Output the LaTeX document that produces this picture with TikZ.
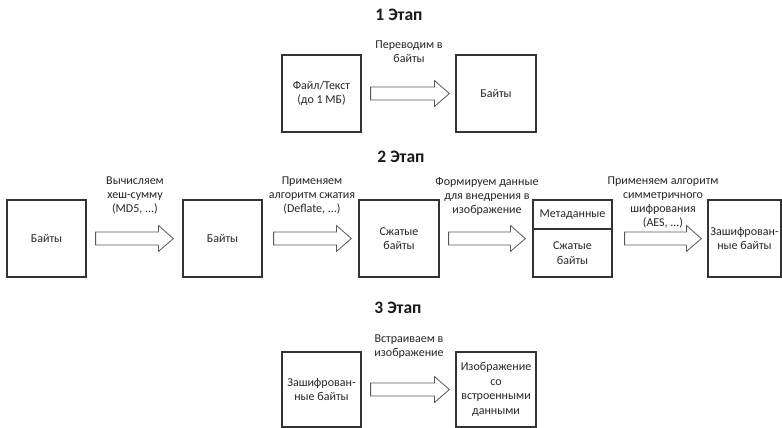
\documentclass[tikz,border=0pt]{standalone}
\usepackage{fontspec}
\setmainfont{Carlito}
\usetikzlibrary{calc}

\tikzset{
  stagebox/.style={draw=black!80, line width=1.2pt, fill=white, inner sep=2pt,
    align=center, font=\fontsize{12}{14.5}\selectfont, text=black!85},
  bare/.style={inner sep=0pt, align=center, font=\fontsize{12}{14.5}\selectfont, text=black!85},
  steplabel/.style={inner sep=0pt, align=center, anchor=north,
    font=\fontsize{12}{14}\selectfont, text=black!85},
  stagetitle/.style={inner sep=0pt, font=\fontsize{17.5}{20}\selectfont\bfseries, text=black!90},
  hollow/.style={draw=black!65, line width=0.8pt, fill=white, line join=miter},
}

% hollow block arrow from node #1 to node #2, with gaps #3 and #4 (pt),
% drawn at the height of the east anchor of #1
\newcommand\blockarrow[4]{%
  \draw[hollow] let \p1=(#1.east), \p2=(#2.west) in
    (\x1+#3pt,\y1+6.5pt) -- (\x2-#4pt-15pt,\y1+6.5pt) -- (\x2-#4pt-15pt,\y1+13pt)
    -- (\x2-#4pt,\y1) -- (\x2-#4pt-15pt,\y1-13pt) -- (\x2-#4pt-15pt,\y1-6.5pt)
    -- (\x1+#3pt,\y1-6.5pt) -- cycle;}

\begin{document}
\begin{tikzpicture}[x=1pt,y=-1pt]
\useasboundingbox[fill=white] (0,0) rectangle (782,428);

% ---- stage 1 ----
\node[stagetitle] (t1) at (399,15) {1 Этап};
\node[stagebox, minimum width=79pt, minimum height=77pt] (file) at (321.5,93.5) {Файл/Текст\\(до 1 МБ)};
\node[stagebox, minimum width=80pt, minimum height=77pt] (bytes1) at (496,93.5) {Байты};
\blockarrow{file}{bytes1}{9}{6}
\node[steplabel] (l1) at (409,41) {Переводим в\\байты};

% ---- stage 2 ----
\node[stagetitle] (t2) at (401,157) {2 Этап};
\node[stagebox, minimum width=79pt, minimum height=77pt] (raw) at (46.5,238.5) {Байты};
\node[stagebox, minimum width=79pt, minimum height=77pt] (hashed) at (222.5,238.5) {Байты};
\node[stagebox, minimum width=80pt, minimum height=77pt] (packed) at (399,238.5) {Сжатые\\байты};
\node[stagebox, minimum width=79pt, minimum height=77pt] (meta) at (572.5,238.5) {};
\node[stagebox, minimum width=73pt, minimum height=77pt] (cipher) at (744.5,238.5) {Зашифрован-\\ные байты};

\coordinate (divl) at (533,229);
\coordinate (divr) at (612,229);
\draw[draw=black!80, line width=1.2pt] (divl) -- (divr);
\node[bare] (metahead) at (572.5,215) {Метаданные};
\node[bare] (metabody) at (572.5,253) {Сжатые\\байты};

\blockarrow{raw}{hashed}{9}{9}
\blockarrow{hashed}{packed}{11}{7}
\blockarrow{packed}{meta}{9}{7}
\blockarrow{meta}{cipher}{12}{6}

\node[steplabel] (l2) at (135,177) {Вычисляем\\хеш-сумму\\(MD5, ...)};
\node[steplabel] (l3) at (312,177) {Применяем\\алгоритм сжатия\\(Deflate, ...)};
\node[steplabel] (l4) at (487,177) {Формируем данные\\для внедрения в\\изображение};
\node[steplabel] (l5) at (663,177) {Применяем алгоритм\\симметричного\\шифрования\\(AES, ...)};

% ---- stage 3 ----
\node[stagetitle] (t3) at (398,308) {3 Этап};
\node[stagebox, minimum width=79pt, minimum height=75pt] (enc) at (321.5,389.5) {Зашифрован-\\ные байты};
\node[stagebox, minimum width=80pt, minimum height=75pt] (img) at (496,389.5) {Изображение\\со\\встроенными\\данными};
\blockarrow{enc}{img}{9}{6}
\node[steplabel] (l6) at (409,335) {Встраиваем в\\изображение};
\end{tikzpicture}
\end{document}
